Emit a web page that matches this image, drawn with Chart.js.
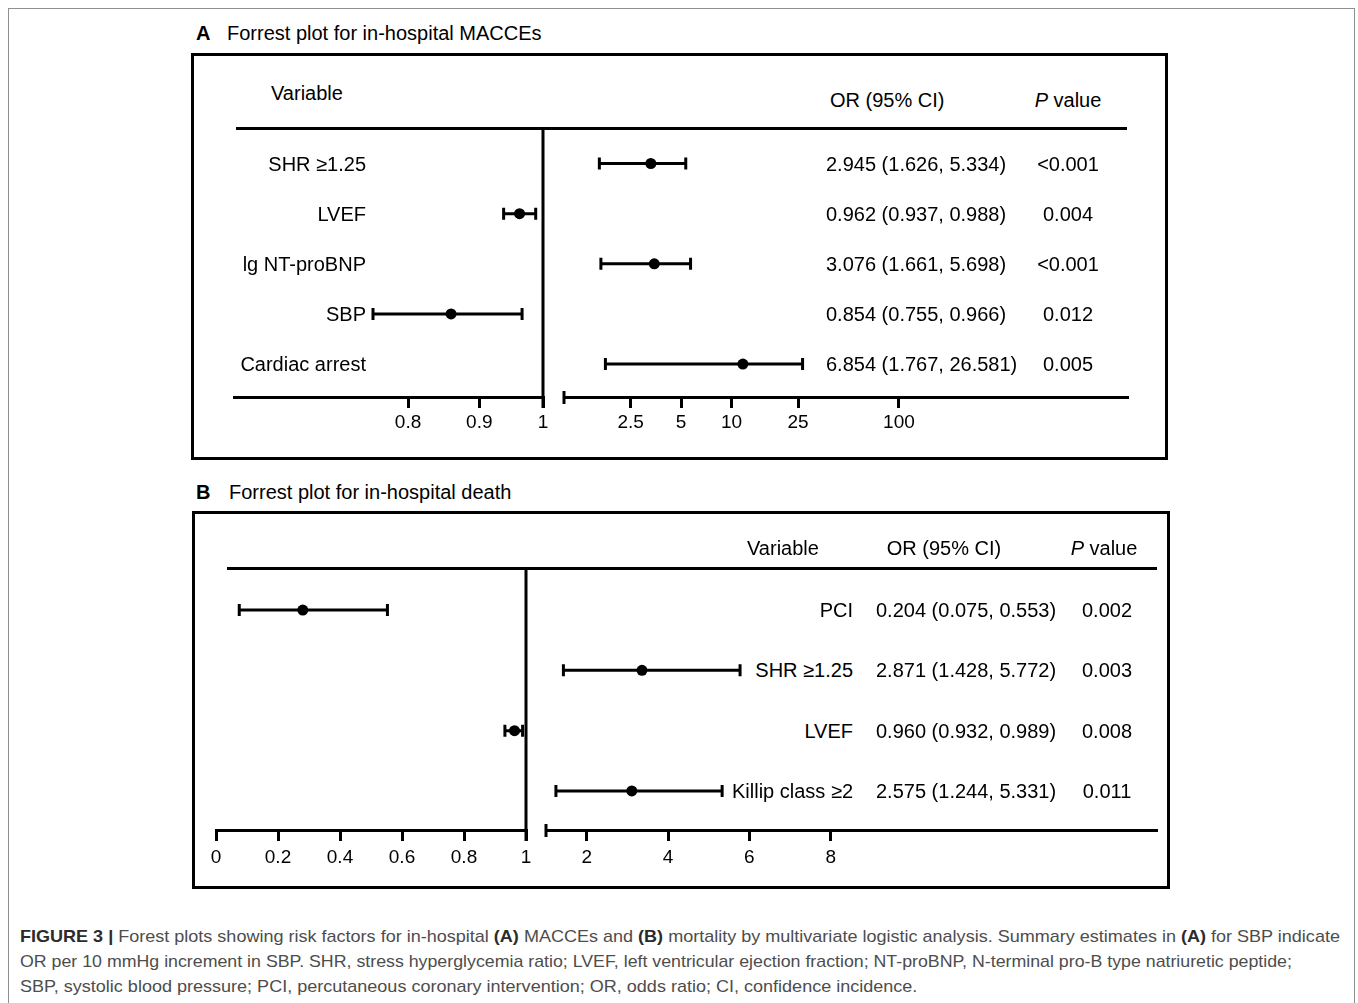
<!DOCTYPE html>
<html>
<head>
<meta charset="utf-8">
<script src="https://cdn.jsdelivr.net/npm/chart.js@4.4.0/dist/chart.umd.min.js"></script>
<style>
body { margin: 0; width: 1358px; height: 1003px; overflow: hidden; position: relative; background: #fff;
       font-family: 'Liberation Sans', Arial, sans-serif; color: #000; }
.t { position: absolute; white-space: nowrap; font-size: 20px; line-height: 24px; }
#frame { position: absolute; left: 8px; top: 8px; width: 1345px; height: 1100px; border: 1px solid #8f8f8f; }
.box { position: absolute; border: 3px solid #000; box-sizing: border-box; }
.rule { position: absolute; height: 3px; background: #000; }
.cap { position: absolute; left: 20px; white-space: nowrap; font-size: 17px; line-height: 22px; color: #4d4d4d; transform-origin: 0 50%; }
.cap b { color: #2b2b2b; }
</style>
</head>
<body>
<div id="frame"></div>
<div class="t" style="left:196px;top:21px;"><b>A</b></div>
<div class="t" style="left:227px;top:21px;">Forrest plot for in-hospital MACCEs</div>
<div class="t" style="left:196px;top:480px;"><b>B</b></div>
<div class="t" style="left:229px;top:480px;">Forrest plot for in-hospital death</div>
<div class="box" style="left:191px;top:53px;width:977px;height:407px;"></div>
<div class="box" style="left:192px;top:511px;width:978px;height:378px;"></div>
<div class="rule" style="left:236px;top:127px;width:891px;"></div>
<div class="rule" style="left:227px;top:567px;width:930px;"></div>

<div class="cap" style="top:926px;"><b>FIGURE 3 |</b> Forest plots showing risk factors for in-hospital <b>(A)</b> MACCEs and <b>(B)</b> mortality by multivariate logistic analysis. Summary estimates in <b>(A)</b> for SBP indicate</div>
<div class="cap" style="top:951px;">OR per 10 mmHg increment in SBP. SHR, stress hyperglycemia ratio; LVEF, left ventricular ejection fraction; NT-proBNP, N-terminal pro-B type natriuretic peptide;</div>
<div class="cap" style="top:976px;">SBP, systolic blood pressure; PCI, percutaneous coronary intervention; OR, odds ratio; CI, confidence incidence.</div>

<script>
// Panel A: in-hospital MACCEs
var varsA = ['SHR \u22651.25', 'LVEF', 'lg NT-proBNP', 'SBP', 'Cardiac arrest'];
var orTextA = ['2.945 (1.626, 5.334)', '0.962 (0.937, 0.988)', '3.076 (1.661, 5.698)', '0.854 (0.755, 0.966)', '6.854 (1.767, 26.581)'];
var pTextA = ['<0.001', '0.004', '<0.001', '0.012', '0.005'];
var markA = [3.30, 0.962, 3.46, 0.859, 11.7];   // marker positions as drawn in the figure
var loA = [1.626, 0.937, 1.661, 0.755, 1.767];
var hiA = [5.334, 0.988, 5.698, 0.966, 26.581];
var ticksAL = [0.8, 0.9, 1];
var ticksAR = [2.5, 5, 10, 25, 100];

// Panel B: in-hospital death
var varsB = ['PCI', 'SHR \u22651.25', 'LVEF', 'Killip class \u22652'];
var orTextB = ['0.204 (0.075, 0.553)', '2.871 (1.428, 5.772)', '0.960 (0.932, 0.989)', '2.575 (1.244, 5.331)'];
var pTextB = ['0.002', '0.003', '0.008', '0.011'];
var markB = [0.28, 3.36, 0.963, 3.11];
var loB = [0.075, 1.428, 0.932, 1.244];
var hiB = [0.553, 5.772, 0.989, 5.331];
var ticksBL = [0, 0.2, 0.4, 0.6, 0.8, 1];
var ticksBR = [2, 4, 6, 8];

Chart.defaults.font.family = "'Liberation Sans', Arial, sans-serif";

var decor = {
    id: 'decor',
    beforeDatasetsDraw: function (chart) {
        var ctx = chart.ctx, x = chart.scales.x, y = chart.scales.y;
        ctx.save();
        ctx.strokeStyle = '#000';
        ctx.lineWidth = 3;
        chart.data.datasets[0].data.forEach(function (d) {
            var py = y.getPixelForValue(d.y);
            var x0 = x.getPixelForValue(d.lo), x1 = x.getPixelForValue(d.hi);
            ctx.beginPath();
            ctx.moveTo(x0, py); ctx.lineTo(x1, py);
            ctx.moveTo(x0, py - 6); ctx.lineTo(x0, py + 6);
            ctx.moveTo(x1, py - 6); ctx.lineTo(x1, py + 6);
            ctx.stroke();
        });
        ctx.restore();
    },
    afterDraw: function (chart, args, opts) {
        var ctx = chart.ctx, ca = chart.chartArea;
        ctx.save();
        ctx.strokeStyle = '#000';
        ctx.lineWidth = 3;
        if (opts.divider) {
            var xd = chart.scales.x.getPixelForValue(1);
            ctx.beginPath(); ctx.moveTo(xd, ca.top); ctx.lineTo(xd, ca.bottom + opts.tickLen); ctx.stroke();
        }
        if (opts.breakMark) {
            ctx.beginPath(); ctx.moveTo(ca.left, ca.bottom - 6); ctx.lineTo(ca.left, ca.bottom + 7); ctx.stroke();
        }
        ctx.restore();
    }
};

function makeForest(o) {
    var padL = 30, padR = 30, padT = 14, axisH = 48;
    var cvLeft = o.left - padL, cvTop = o.top - padT;
    var w = o.right - o.left + padL + padR, h = o.bottom - o.top + padT + axisH;
    var cv = document.createElement('canvas');
    cv.width = w; cv.height = h;
    cv.style.cssText = 'position:absolute;left:' + cvLeft + 'px;top:' + cvTop + 'px;width:' + w + 'px;height:' + h + 'px;';
    document.body.appendChild(cv);

    var pts = o.rows.map(function (i) {
        return { x: o.mark[i], y: i, lo: o.lo[i], hi: o.hi[i] };
    });

    var chart = new Chart(cv.getContext('2d'), {
        type: 'scatter',
        data: { datasets: [{ data: pts, pointRadius: 5.5, pointHoverRadius: 5.5, pointBackgroundColor: '#000', pointBorderWidth: 0 }] },
        options: {
            responsive: false,
            animation: false,
            devicePixelRatio: 1,
            events: [],
            layout: { padding: { left: padL, right: padR, top: padT, bottom: 0 } },
            plugins: {
                legend: { display: false },
                tooltip: { enabled: false },
                decor: { divider: o.divider, breakMark: o.breakMark, tickLen: o.tickLen }
            },
            scales: {
                x: {
                    type: o.type, min: o.min, max: o.max, position: 'bottom',
                    afterBuildTicks: function (s) { s.ticks = o.ticks.map(function (v) { return { value: v }; }); },
                    afterFit: function (s) { s.height = axisH; },
                    grid: { drawOnChartArea: false, drawTicks: true, tickLength: o.tickLen, lineWidth: 3, color: '#000' },
                    border: { display: true, color: '#000', width: 3 },
                    ticks: { color: '#000', font: { size: 19 }, padding: o.tickPad, maxRotation: 0, autoSkip: false,
                             callback: function (v) { return String(v); } }
                },
                y: { type: 'linear', reverse: true, min: o.yMin, max: o.yMax, display: false }
            }
        },
        plugins: [decor]
    });
    chart.pageY = function (v) { return cvTop + chart.scales.y.getPixelForValue(v); };
    return chart;
}

function sideRows(lo, hi, left) {
    var r = [];
    for (var i = 0; i < lo.length; i++) {
        if ((hi[i] <= 1) === left) r.push(i);
    }
    return r;
}

function txt(html, x, y, align, extra) {
    var d = document.createElement('div');
    d.className = 't';
    d.innerHTML = html;
    d.style.left = x + 'px';
    d.style.top = (y - 12) + 'px';
    if (align === 'right') d.style.transform = 'translateX(-100%)';
    if (align === 'center') d.style.transform = 'translateX(-50%)';
    if (extra) d.style.cssText += extra;
    document.body.appendChild(d);
}

function esc(s) { return s.replace(/</g, '&lt;'); }

// ---- Panel A ----
var yA = { yMin: -0.708, yMax: 4.656 };
var aL = makeForest({ left: 234, right: 543, top: 128, bottom: 397, type: 'logarithmic', min: 0.6, max: 1,
    ticks: ticksAL, rows: sideRows(loA, hiA, true), mark: markA, lo: loA, hi: hiA,
    yMin: yA.yMin, yMax: yA.yMax, tickLen: 11, tickPad: 3, divider: true, breakMark: false });
var aR = makeForest({ left: 564, right: 1127, top: 128, bottom: 397, type: 'logarithmic', min: 1, max: 2300,
    ticks: ticksAR, rows: sideRows(loA, hiA, false), mark: markA, lo: loA, hi: hiA,
    yMin: yA.yMin, yMax: yA.yMax, tickLen: 11, tickPad: 3, divider: false, breakMark: true });

txt('Variable', 271, 93, 'left');
txt('OR (95% CI)', 830, 100, 'left');
txt('<i>P</i> value', 1068, 100, 'center');
varsA.forEach(function (v, i) {
    var y = aL.pageY(i);
    txt(v, 366, y, 'right');
    txt(orTextA[i], 826, y, 'left');
    txt(esc(pTextA[i]), 1068, y, 'center');
});

// ---- Panel B ----
var yB = { yMin: -0.697, yMax: 3.648 };
var bL = makeForest({ left: 216, right: 526, top: 568, bottom: 830, type: 'linear', min: 0, max: 1,
    ticks: ticksBL, rows: sideRows(loB, hiB, true), mark: markB, lo: loB, hi: hiB,
    yMin: yB.yMin, yMax: yB.yMax, tickLen: 11, tickPad: 5, divider: true, breakMark: false });
var bR = makeForest({ left: 546, right: 1156, top: 568, bottom: 830, type: 'linear', min: 1, max: 16,
    ticks: ticksBR, rows: sideRows(loB, hiB, false), mark: markB, lo: loB, hi: hiB,
    yMin: yB.yMin, yMax: yB.yMax, tickLen: 11, tickPad: 5, divider: false, breakMark: true });

txt('Variable', 747, 548, 'left');
txt('OR (95% CI)', 944, 548, 'center');
txt('<i>P</i> value', 1104, 548, 'center');
varsB.forEach(function (v, i) {
    var y = bL.pageY(i);
    txt(v, 853, y, 'right', 'background:#fff;padding-left:3px;');
    txt(orTextB[i], 876, y, 'left');
    txt(pTextB[i], 1107, y, 'center');
});

// caption lines stretched to the widths of the printed figure legend
var capWidths = [1320, 1272, 897];
document.querySelectorAll('.cap').forEach(function (el, i) {
    el.style.transform = 'scaleX(' + (capWidths[i] / el.offsetWidth) + ')';
});
</script>
</body>
</html>
